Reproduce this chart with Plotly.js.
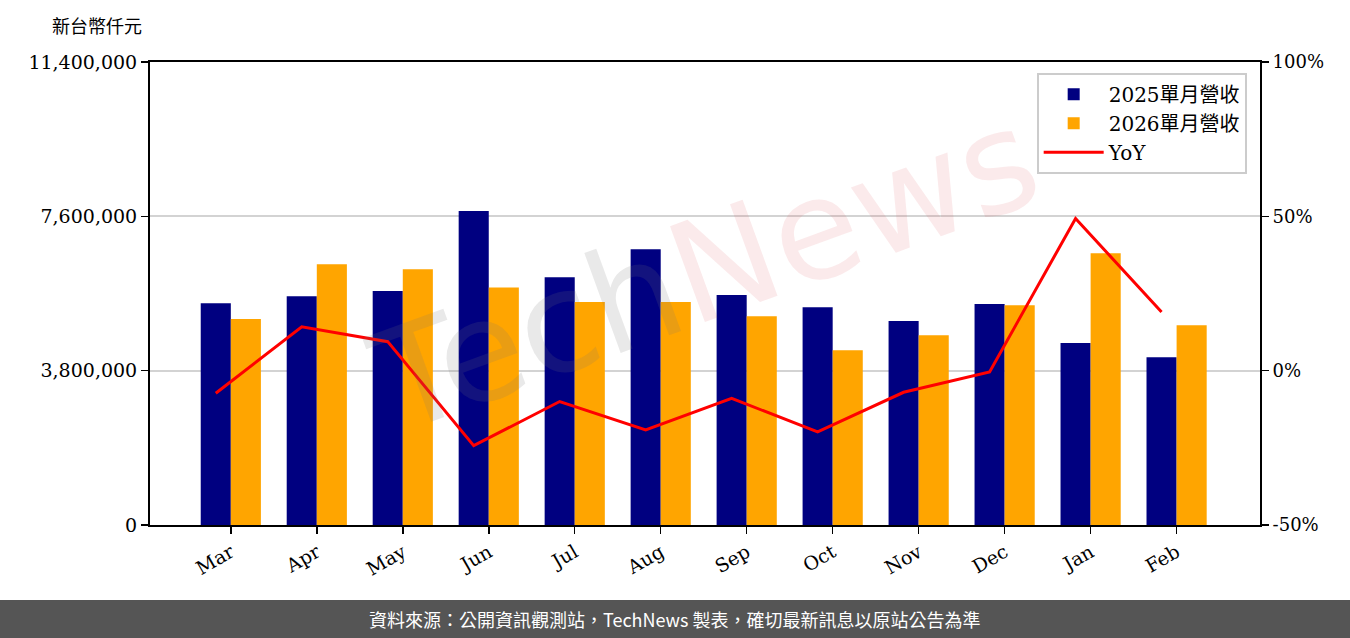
<!DOCTYPE html>
<html>
<head>
<meta charset="utf-8">
<script src="https://cdn.plot.ly/plotly-3.0.1.min.js"></script>
<style>
html,body{margin:0;padding:0;background:#fff;}
#chart{width:1350px;height:638px;}
</style>
</head>
<body>
<div id="chart"></div>
<script>
const months = ["Mar","Apr","May","Jun","Jul","Aug","Sep","Oct","Nov","Dec","Jan","Feb"];
const rev2025 = [5460000,5630000,5760000,7730000,6100000,6790000,5660000,5360000,5020000,5440000,4480000,4130000];
const rev2026 = [5070000,6420000,6300000,5850000,5490000,5490000,5140000,4300000,4670000,5410000,6690000,4920000];
const yoy = [-7.3,14.2,9.4,-24.3,-10.0,-19.2,-9.0,-19.8,-7.0,-0.4,49.3,19.0];
const leftTicks = [0,3800000,7600000,11400000];
const rightTicks = [-50,0,50,100];
const rightTickText = ["-50%","0%","50%","100%"];

const idx = months.map((m,i)=>i);
const serif = "DejaVu Serif, 'Noto Sans CJK TC', serif";
const cjk = "'Noto Sans CJK TC', sans-serif";

const traces = [
  {type:'bar', name:'2025單月營收', x:idx, y:rev2025, marker:{color:'#000080'}, hoverinfo:'y'},
  {type:'bar', name:'2026單月營收', x:idx, y:rev2026, marker:{color:'#FFA500'}, hoverinfo:'y'},
  {type:'scatter', mode:'lines', name:'YoY', x:idx.map(i=>i-0.175), y:yoy, yaxis:'y2',
   line:{color:'#FF0000', width:3}}
];

const layout = {
  width:1350, height:638,
  margin:{l:150, r:90, t:62, b:113},
  paper_bgcolor:'#fff', plot_bgcolor:'rgba(0,0,0,0)',
  barmode:'group', bargap:0.3, bargroupgap:0,
  showlegend:true,
  legend:{x:0.988, y:0.977, xanchor:'right', yanchor:'top',
    bgcolor:'rgba(255,255,255,0.8)', bordercolor:'#cccccc', borderwidth:2,
    font:{family:serif, size:20, color:'#000'}, traceorder:'normal',
    itemwidth:60, tracegroupgap:2},
  xaxis:{range:[-0.94,11.97], tickvals:idx, ticktext:months, tickangle:-30,
    ticks:'outside', ticklen:7, tickwidth:1.5, tickcolor:'#000',
    showline:true, linecolor:'#000', linewidth:2, mirror:true,
    showgrid:false, zeroline:false,
    tickfont:{family:serif, size:19, color:'#000'}},
  yaxis:{range:[0,11400000], tickvals:leftTicks, tickformat:',d',
    ticks:'outside', ticklen:7, tickwidth:1.5, tickcolor:'#000',
    showline:true, linecolor:'#000', linewidth:2,
    showgrid:true, gridcolor:'#d3d3d3', gridwidth:2, zeroline:false,
    tickfont:{family:serif, size:19, color:'#000'}},
  yaxis2:{range:[-50,100], tickvals:rightTicks, ticktext:rightTickText, overlaying:'y', side:'right',
    ticks:'outside', ticklen:7, tickwidth:1.5, tickcolor:'#000',
    showline:true, linecolor:'#000', linewidth:2,
    showgrid:false, zeroline:false,
    tickfont:{family:serif, size:18, color:'#000'}},
  shapes:[
    {type:'rect', xref:'paper', yref:'paper', x0:-0.14, x1:1.09, y0:-0.25, y1:-0.162,
     fillcolor:'#555555', line:{width:0}, layer:'above'}
  ],
  annotations:[
    {text:'新台幣仟元', xref:'paper', yref:'paper', x:-0.048, y:1.08, xanchor:'center', yanchor:'middle',
     showarrow:false, font:{family:cjk, size:18, color:'#000'}},
    {text:'資料來源：公開資訊觀測站，TechNews 製表，確切最新訊息以原站公告為準', xref:'paper', yref:'paper',
     x:(675-150)/1110, y:(525-619)/462.7, xanchor:'center', yanchor:'middle', showarrow:false,
     font:{family:cjk, size:18, color:'#ffffff'}},
    {text:'<span style="color:rgba(120,120,120,0.16)">Tech</span><span style="color:rgba(220,80,90,0.12)">News</span>',
     xref:'paper', yref:'paper', x:0.5, y:0.55, showarrow:false, textangle:-20,
     font:{family:"'DejaVu Sans', sans-serif", size:140}}
  ]
};

Plotly.newPlot('chart', traces, layout, {displayModeBar:false, staticPlot:true});
</script>
</body>
</html>
